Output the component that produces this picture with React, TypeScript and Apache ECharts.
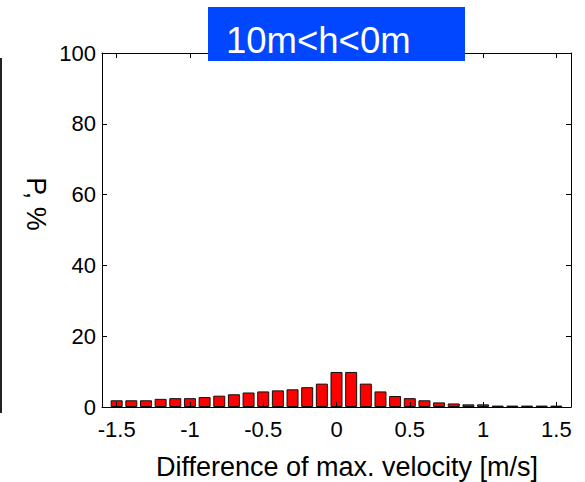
import React, { useEffect, useRef } from "react";
import * as echarts from "echarts";

const FONT = "'Liberation Sans', Arial, sans-serif";

const binCenters = [
  -1.5, -1.4, -1.3, -1.2, -1.1, -1.0, -0.9, -0.8, -0.7, -0.6, -0.5, -0.4, -0.3, -0.2, -0.1,
  0.0, 0.1, 0.2, 0.3, 0.4, 0.5, 0.6, 0.7, 0.8, 0.9, 1.0, 1.1, 1.2, 1.3, 1.4, 1.5,
];
const percentValues = [
  1.9, 1.9, 1.9, 2.3, 2.5, 2.5, 2.8, 3.2, 3.6, 4.1, 4.4, 4.7, 5.0, 5.6, 6.6,
  9.9, 9.9, 6.6, 4.4, 3.1, 2.5, 1.9, 1.3, 1.0, 0.75, 0.75, 0.4, 0.4, 0.4, 0.4, 0.4,
];
const xTicks = [-1.5, -1, -0.5, 0, 0.5, 1, 1.5];
const titleText = "10m<h<0m";
const xName = "Difference of max. velocity [m/s]";
const yName = "P, %";

export default function App() {
  const ref = useRef<HTMLDivElement>(null);
  useEffect(() => {
    if (!ref.current) return;
    const chart = echarts.init(ref.current, undefined, { renderer: "svg" });
    const axisBase = {
      type: "value" as const,
      axisLine: { show: true, onZero: false, lineStyle: { color: "#000", width: 1 } },
      splitLine: { show: false },
      z: 5,
    };
    chart.setOption({
      animation: false,
      backgroundColor: "#fff",
      grid: { left: 102, right: 14, top: 53, bottom: 75, containLabel: false },
      xAxis: [
        {
          ...axisBase,
          min: -1.6,
          max: 1.6,
          position: "bottom",
          axisTick: { show: true, inside: true, length: 5, customValues: xTicks, lineStyle: { color: "#000" } },
          axisLabel: { show: true, customValues: xTicks, color: "#000", fontSize: 22, fontFamily: FONT, margin: 11 },
        },
        {
          ...axisBase,
          min: -1.6,
          max: 1.6,
          position: "top",
          axisTick: { show: true, inside: true, length: 5, customValues: xTicks, lineStyle: { color: "#000" } },
          axisLabel: { show: false },
        },
      ],
      yAxis: [
        {
          ...axisBase,
          min: 0,
          max: 100,
          interval: 20,
          position: "left",
          axisTick: { show: true, inside: true, length: 5, lineStyle: { color: "#000" } },
          axisLabel: { show: true, color: "#000", fontSize: 22, fontFamily: FONT, margin: 6 },
        },
        {
          ...axisBase,
          min: 0,
          max: 100,
          interval: 20,
          position: "right",
          axisTick: { show: true, inside: true, length: 5, lineStyle: { color: "#000" } },
          axisLabel: { show: false },
        },
      ],
      series: [
        {
          type: "bar",
          xAxisIndex: 0,
          yAxisIndex: 0,
          barWidth: 12,
          data: binCenters.map((c, i) => [c, percentValues[i]]),
          itemStyle: { color: "#ff0000", borderColor: "#111", borderWidth: 1 },
        },
      ],
      graphic: [
        { type: "rect", z: 100, shape: { x: 0, y: 58, width: 2, height: 355 }, style: { fill: "#222" } },
        { type: "rect", z: 100, shape: { x: 208, y: 7, width: 257, height: 54 }, style: { fill: "#0047ff" } },
        {
          type: "text",
          z: 101,
          x: 226,
          y: 40,
          style: { text: titleText, fill: "#fff", fontSize: 36.5, fontFamily: FONT, align: "left", verticalAlign: "middle" },
        },
        {
          type: "text",
          z: 101,
          x: 36,
          y: 204,
          rotation: -Math.PI / 2,
          style: { text: yName, fill: "#000", fontSize: 27, fontFamily: FONT, align: "center", verticalAlign: "middle" },
        },
        {
          type: "text",
          z: 101,
          x: 347,
          y: 467,
          style: { text: xName, fill: "#000", fontSize: 27, fontFamily: FONT, align: "center", verticalAlign: "middle" },
        },
      ],
    });
    return () => chart.dispose();
  }, []);
  return <div ref={ref} style={{ position: "absolute", left: 0, top: 0, width: 585, height: 482 }} />;
}
